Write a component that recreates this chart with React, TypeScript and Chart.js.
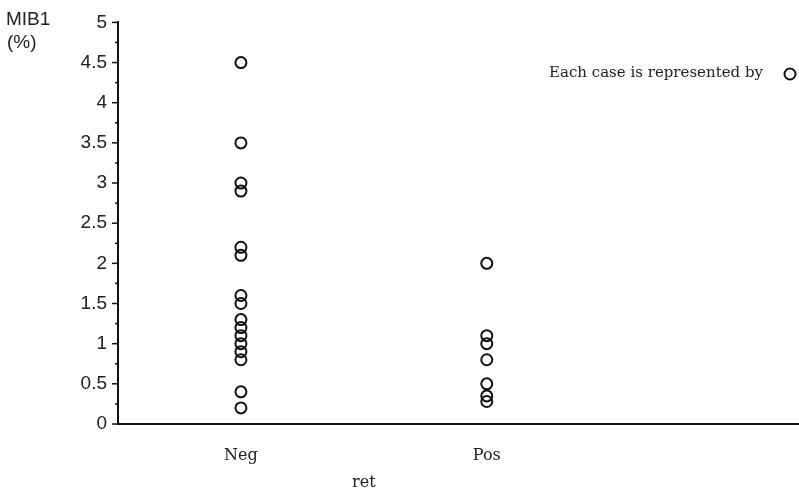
import React, { useEffect, useRef } from "react";
import { Chart, registerables } from "chart.js";

Chart.register(...registerables);

const categories = ["Neg", "Pos"];
const negValues = [4.5, 3.5, 3.0, 2.9, 2.2, 2.1, 1.6, 1.5, 1.3, 1.2, 1.1, 1.0, 0.9, 0.8, 0.4, 0.2];
const posValues = [2.0, 1.1, 1.0, 0.8, 0.5, 0.35, 0.28];
const yMin = 0;
const yMax = 5;
const yMinorStep = 0.25;
const yMajorStep = 0.5;
const yTitleLines = ["MIB1", "(%)"];
const xTitle = "ret";
const legendText = "Each case is represented by";

const SANS = "'Liberation Sans', Arial, sans-serif";
const SERIF = "'DejaVu Serif', serif";

const overlayPlugin = {
  id: "overlay",
  afterDraw(chart: any) {
    const ctx = chart.ctx;
    const y = chart.scales.y;
    const x = chart.scales.x;
    const area = chart.chartArea;
    ctx.save();
    // y ticks
    ctx.strokeStyle = "#111";
    ctx.lineWidth = 1.5;
    y.ticks.forEach((t: any) => {
      const py = y.getPixelForValue(t.value);
      const major = Math.abs(t.value / yMajorStep - Math.round(t.value / yMajorStep)) < 1e-9;
      const len = major ? 6 : 3;
      ctx.beginPath();
      ctx.moveTo(area.left - len, py);
      ctx.lineTo(area.left, py);
      ctx.stroke();
    });
    // y title
    ctx.fillStyle = "#222";
    ctx.font = `19px ${SANS}`;
    ctx.textAlign = "left";
    ctx.textBaseline = "middle";
    ctx.fillText(yTitleLines[0], 6, 20);
    ctx.fillText(yTitleLines[1], 7, 43);
    // x title centered between categories
    ctx.font = `16px ${SERIF}`;
    ctx.textAlign = "center";
    ctx.fillText(xTitle, x.getPixelForValue((categories.length - 1) / 2), 483);
    // legend
    ctx.font = `15px ${SERIF}`;
    ctx.textAlign = "right";
    ctx.fillText(legendText, 763, 73);
    ctx.beginPath();
    ctx.lineWidth = 2;
    ctx.strokeStyle = "#111";
    ctx.arc(790, 74, 5.5, 0, Math.PI * 2);
    ctx.stroke();
    ctx.restore();
  },
};

export default function App() {
  const ref = useRef<HTMLCanvasElement>(null);
  useEffect(() => {
    if (!ref.current) return;
    const seriesList = [negValues, posValues];
    const chart = new Chart(ref.current, {
      type: "scatter",
      data: {
        datasets: seriesList.map((vals, i) => ({
          label: categories[i],
          data: vals.map((v) => ({ x: i, y: v })),
          pointRadius: 5.5,
          pointHoverRadius: 5.5,
          borderWidth: 2,
          pointBorderWidth: 2,
          borderColor: "#111",
          pointBorderColor: "#111",
          backgroundColor: "rgba(0,0,0,0)",
          pointBackgroundColor: "rgba(0,0,0,0)",
        })),
      },
      options: {
        animation: false,
        responsive: false,
        devicePixelRatio: 1,
        layout: { autoPadding: false, padding: { top: 21, left: 0, right: 0, bottom: 0 } },
        plugins: { legend: { display: false }, tooltip: { enabled: false } },
        scales: {
          x: {
            type: "linear",
            min: -0.5,
            max: 2.27,
            afterBuildTicks: (s: any) => {
              s.ticks = categories.map((_, i) => ({ value: i }));
            },
            afterFit: (s: any) => {
              s.height = 70;
            },
            grid: { display: true, drawOnChartArea: false, drawTicks: false, tickLength: 0 },
            border: { display: true, color: "#111", width: 2 },
            ticks: {
              autoSkip: false,
              maxRotation: 0,
              padding: 22,
              color: "#222",
              font: { family: SERIF, size: 16 },
              callback: (v: any) => categories[Math.round(Number(v))] ?? "",
            },
          },
          y: {
            type: "linear",
            min: yMin,
            max: yMax,
            afterFit: (s: any) => {
              s.width = 118;
            },
            grid: { display: true, drawOnChartArea: false, drawTicks: false, tickLength: 0 },
            border: { display: true, color: "#111", width: 2 },
            ticks: {
              stepSize: yMinorStep,
              autoSkip: false,
              padding: 11,
              color: "#222",
              font: { family: SANS, size: 19 },
              callback: (v: any) => {
                const n = Number(v);
                const r = n / yMajorStep;
                return Math.abs(r - Math.round(r)) < 1e-9 ? String(n) : "";
              },
            },
          },
        },
      },
      plugins: [overlayPlugin],
    } as any);
    return () => chart.destroy();
  }, []);
  return (
    <div style={{ position: "fixed", left: 0, top: 0, width: 799, height: 494, background: "#fff" }}>
      <canvas ref={ref} width={799} height={494} style={{ width: 799, height: 494, display: "block" }} />
    </div>
  );
}
